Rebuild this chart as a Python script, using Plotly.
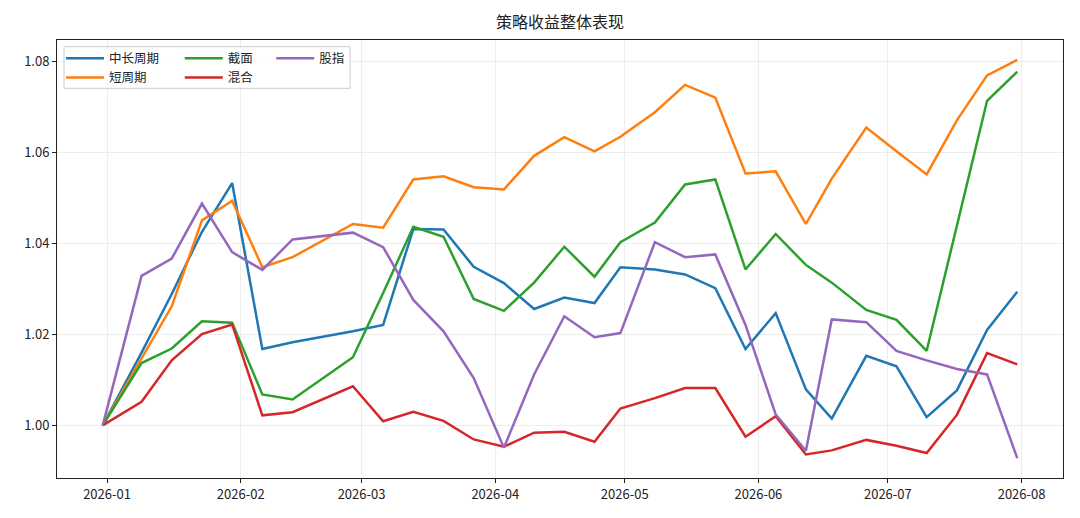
import pandas as pd
import plotly.graph_objects as go

# weekly closing dates (Spring Festival week skipped)
dates = ["2025-12-31", "2026-01-09", "2026-01-16", "2026-01-23", "2026-01-30",
         "2026-02-06", "2026-02-13", "2026-02-27", "2026-03-06", "2026-03-13",
         "2026-03-20", "2026-03-27", "2026-04-03", "2026-04-10", "2026-04-17",
         "2026-04-24", "2026-04-30", "2026-05-08", "2026-05-15", "2026-05-22",
         "2026-05-29", "2026-06-05", "2026-06-12", "2026-06-18", "2026-06-26",
         "2026-07-03", "2026-07-10", "2026-07-17", "2026-07-24", "2026-07-31"]

mid_long = [1.000, 1.0160, 1.0289, 1.0426, 1.0533, 1.0168, 1.0183, 1.0207, 1.0221, 1.0432,
            1.0431, 1.0349, 1.0313, 1.0256, 1.0281, 1.0269, 1.0348, 1.0343, 1.0332, 1.0302,
            1.0168, 1.0247, 1.0079, 1.0015, 1.0153, 1.0130, 1.0018, 1.0077, 1.0210, 1.0294]
short = [1.000, 1.0148, 1.0262, 1.0451, 1.0494, 1.0348, 1.0370, 1.0443, 1.0435, 1.0541,
         1.0548, 1.0524, 1.0519, 1.0593, 1.0634, 1.0603, 1.0635, 1.0689, 1.0749, 1.0721,
         1.0554, 1.0559, 1.0443, 1.0543, 1.0655, 1.0603, 1.0552, 1.0671, 1.0770, 1.0804]
cross = [1.000, 1.0137, 1.0169, 1.0229, 1.0226, 1.0068, 1.0057, 1.0150, 1.0291, 1.0437,
         1.0415, 1.0278, 1.0252, 1.0314, 1.0393, 1.0327, 1.0403, 1.0446, 1.0530, 1.0541,
         1.0343, 1.0421, 1.0353, 1.0314, 1.0254, 1.0232, 1.0164, 1.0437, 1.0714, 1.0778]
mixed = [1.000, 1.0052, 1.0143, 1.0201, 1.0222, 1.0022, 1.0029, 1.0086, 1.0009, 1.0030,
         1.0010, 0.9969, 0.9953, 0.9984, 0.9986, 0.9964, 1.0037, 1.0060, 1.0082, 1.0082,
         0.9975, 1.0020, 0.9936, 0.9945, 0.9968, 0.9955, 0.9939, 1.0023, 1.0159, 1.0134]
index_fut = [1.000, 1.0329, 1.0367, 1.0488, 1.0381, 1.0342, 1.0409, 1.0424, 1.0392, 1.0276,
             1.0207, 1.0104, 0.9951, 1.0112, 1.0240, 1.0194, 1.0203, 1.0403, 1.0370, 1.0376,
             1.0221, 1.0024, 0.9944, 1.0233, 1.0227, 1.0164, 1.0143, 1.0124, 1.0112, 0.9928]

names = ["中长周期", "短周期", "截面", "混合", "股指"]
colors = ["#1f77b4", "#ff7f0e", "#2ca02c", "#d62728", "#9467bd"]
legends = ["legend", "legend", "legend2", "legend2", "legend3"]
series = [mid_long, short, cross, mixed, index_fut]

FONT = "Noto Sans CJK SC"
x = pd.to_datetime(dates)

fig = go.Figure()
for name, ys, c, lg in zip(names, series, colors, legends):
    fig.add_trace(go.Scatter(x=x, y=ys, mode="lines", name=name,
                             line=dict(color=c, width=2.5), legend=lg))

# matplotlib-like 5% margins
span = x.max() - x.min()
xr = [x.min() - span * 0.05, x.max() + span * 0.05]
allv = [v for s in series for v in s]
ys = max(allv) - min(allv)
yr = [min(allv) - ys * 0.05, max(allv) + ys * 0.05]

leg_common = dict(bgcolor="rgba(0,0,0,0)", borderwidth=0, yanchor="top", xanchor="left",
                  font=dict(family=FONT, size=12.5, color="#222"), tracegroupgap=0,
                  itemwidth=38)

# page body has an 8px margin, so margins are shifted to compensate
fig.update_layout(
    width=1080, height=518,
    margin=dict(l=49, r=25, t=32, b=48),
    plot_bgcolor="white", paper_bgcolor="white",
    font=dict(family=FONT, size=13, color="#222"),
    title=dict(text="策略收益整体表现", x=0.5, xref="paper", y=1 - 14 / 518,
               yanchor="middle", font=dict(family=FONT, size=16, color="#222")),
    legend=dict(x=0.004, y=0.992, **leg_common),
    legend2=dict(x=0.122, y=0.992, **leg_common),
    legend3=dict(x=0.213, y=0.992, **leg_common),
    shapes=[dict(type="rect", xref="paper", yref="paper", x0=0.007, x1=0.2913,
                 y0=0.8897, y1=0.9847, line=dict(color="#cccccc", width=1),
                 fillcolor="rgba(255,255,255,0.8)", layer="above")],
)
fig.update_xaxes(range=xr, tickformat="%Y-%m", dtick="M1", tick0="2026-01-01",
                 showgrid=True, gridcolor="#ededed", gridwidth=1,
                 showline=True, linecolor="#222", linewidth=1, mirror=True,
                 ticks="outside", ticklen=4, tickcolor="#222", zeroline=False)
fig.update_yaxes(range=yr, tickformat=".2f", dtick=0.02, tick0=1.0,
                 showgrid=True, gridcolor="#ededed", gridwidth=1,
                 showline=True, linecolor="#222", linewidth=1, mirror=True,
                 ticks="outside", ticklen=4, tickcolor="#222", zeroline=False)

fig.write_html("out.html")
